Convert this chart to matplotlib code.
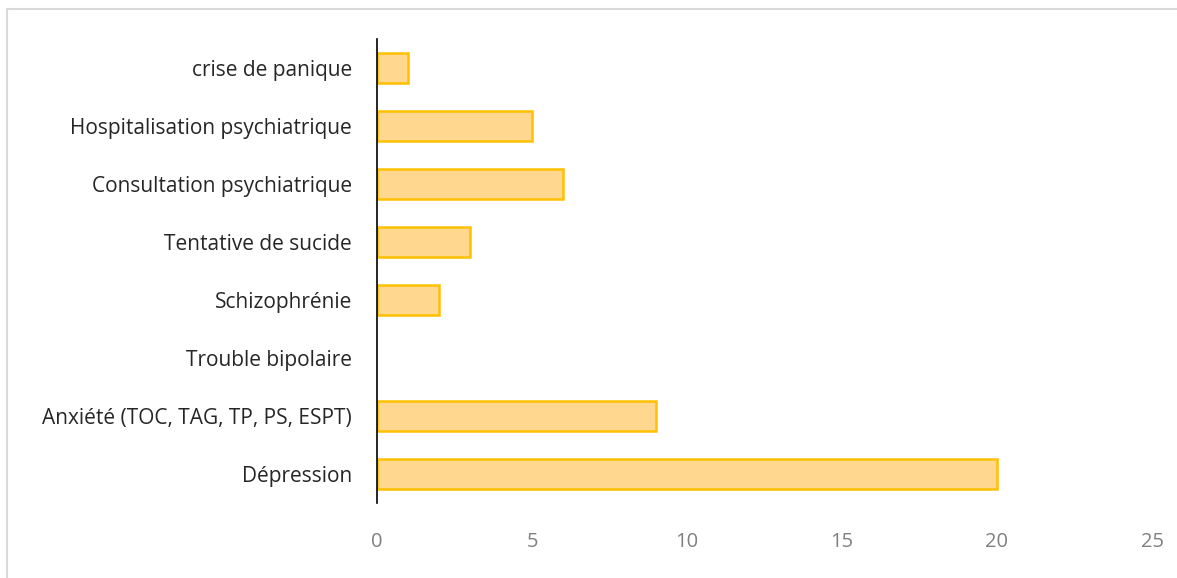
import numpy as np
import matplotlib.pyplot as plt
from matplotlib.patches import Rectangle

# data (bottom to top)
categories = ['Dépression', 'Anxiété (TOC, TAG, TP, PS, ESPT)', 'Trouble bipolaire',
              'Schizophrénie', 'Tentative de sucide', 'Consultation psychiatrique',
              'Hospitalisation psychiatrique', 'crise de panique']
values = [20, 9, 0, 2, 3, 6, 5, 1]
xticks = [0, 5, 10, 15, 20, 25]

plt.rcParams['font.family'] = ['Open Sans', 'DejaVu Sans']

fig = plt.figure(figsize=(11.77, 5.78), dpi=100)
ax = fig.add_axes([377/1177, 1 - 503/578, (1152 - 377)/1177, 464/578])

y = np.arange(len(categories))
lw = [1.8 if v > 0 else 0 for v in values]  # no outline on empty bars
ax.barh(y, values, height=0.52, color='#FFD78F', edgecolor='#FFC000', linewidth=lw)

ax.set_xlim(0, 25)
ax.set_ylim(-0.5, len(categories) - 0.5)
ax.set_xticks(xticks)
ax.set_yticks(y)
ax.set_yticklabels(categories, fontsize=15, color='#262626')
ax.tick_params(axis='x', length=0, labelsize=14.5, labelcolor='#808080', pad=21)
ax.tick_params(axis='y', length=0, pad=18)

for s in ['top', 'right', 'bottom']:
    ax.spines[s].set_visible(False)
ax.spines['left'].set_color('black')
ax.spines['left'].set_linewidth(1.2)
ax.spines['left'].set_zorder(3)

# light grey frame round the chart
fig.patches.append(Rectangle((7/1177, -0.1), 1.2, 1 - 9/578 + 0.1, transform=fig.transFigure,
                             fill=False, edgecolor='#D9D9D9', linewidth=1.5))

fig.savefig('out.png', dpi=100)
